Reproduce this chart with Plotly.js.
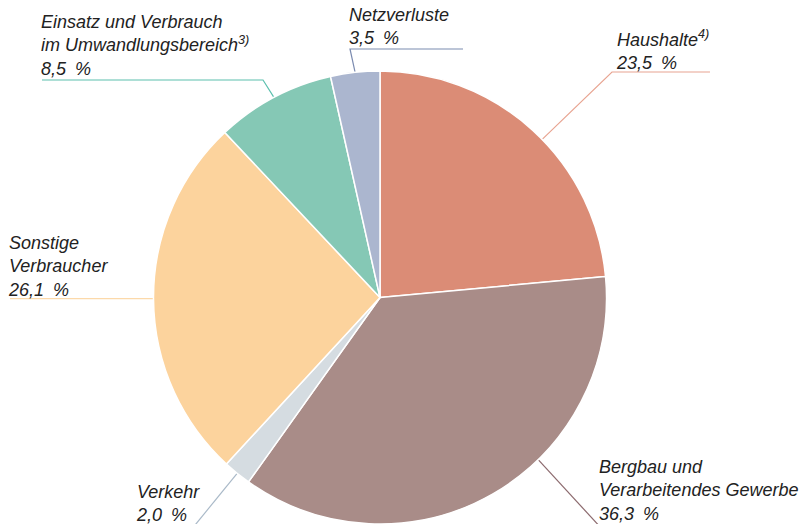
<!DOCTYPE html>
<html>
<head>
<meta charset="utf-8">
<script src="https://cdn.plot.ly/plotly-3.0.1.min.js"></script>
<style>html,body{margin:0;padding:0;background:#fff;}#chart{width:808px;height:524px;}</style>
</head>
<body>
<div id="chart"></div>
<script>
// Data
const categories = ["Haushalte", "Bergbau und Verarbeitendes Gewerbe", "Verkehr", "Sonstige Verbraucher", "Einsatz und Verbrauch im Umwandlungsbereich", "Netzverluste"];
const values = [23.5, 36.3, 2.0, 26.1, 8.5, 3.5];
const valueLabels = ["23,5\u2002%", "36,3\u2002%", "2,0\u2002%", "26,1\u2002%", "8,5\u2002%", "3,5\u2002%"];
const labelTexts = ["Haushalte<sup>4)</sup>", "Bergbau und<br>Verarbeitendes Gewerbe", "Verkehr", "Sonstige<br>Verbraucher", "Einsatz und Verbrauch<br>im Umwandlungsbereich<sup>3)</sup>", "Netzverluste"];
const colors = ["#DB8C76", "#A98C88", "#D5DCE1", "#FCD39D", "#85C8B5", "#ABB6CF"];
const lineColors = ["#E8A491", "#8C6A6E", "#A9B9C8", "#FCD9AA", "#5CC0AE", "#7B8BB0"];

// Layout geometry (pixels)
const W = 808, H = 524;
const cx = 380, cy = 226.5;
const R = 226.5;
const px = x => x / W;
const py = y => 1 - y / H;

// position inside slice for leader start
const frac = [0.54, 0.39, 0.5, 0.5, 0.5, 0.5];
// label positions (top-left)
const labelPos = [[614, 25], [597, 455], [134, 480], [6, 231], [39, 10], [347, 3]];

const total = values.reduce((a, b) => a + b, 0);
let cum = 0;
const shapes = [];
const annotations = [];
values.forEach((v, i) => {
  const a = (cum + v * frac[i]) / total * 2 * Math.PI;
  cum += v;
  const sx = cx + R * Math.sin(a);
  const syTop = (H - cy) - R * Math.cos(a);
  let pts;
  if (i === 0) pts = [[sx, syTop], [612, 72], [710, 72]];
  else if (i === 1) pts = [[sx, syTop], [sx + (530 - syTop) * 0.92, 530]];
  else if (i === 2) {
    const k = (530 - syTop) / (-Math.cos(a));
    pts = [[sx, syTop], [sx + k * Math.sin(a), 530]];
  }
  else if (i === 3) pts = [[sx, syTop], [10, syTop]];
  else if (i === 4) pts = [[sx, syTop], [263, 80], [42, 80]];
  else pts = [[sx, syTop], [350, 49], [463, 49]];
  const path = pts.map((p, j) => (j ? "L" : "M") + px(p[0]).toFixed(5) + "," + py(p[1]).toFixed(5)).join(" ");
  shapes.push({type: "path", xref: "paper", yref: "paper", path: path, line: {color: lineColors[i], width: 1.2}, layer: "below"});
  annotations.push({
    xref: "paper", yref: "paper",
    x: px(labelPos[i][0]), y: py(labelPos[i][1]),
    xanchor: "left", yanchor: "top", align: "left",
    showarrow: false,
    text: "<i>" + labelTexts[i] + "<br>" + valueLabels[i] + "</i>",
    font: {family: "Liberation Sans, Arial, sans-serif", size: 18, color: "#222"}
  });
});

const data = [{
  type: "pie",
  labels: categories,
  values: values,
  sort: false,
  direction: "clockwise",
  rotation: 0,
  textinfo: "none",
  hoverinfo: "none",
  marker: {colors: colors, line: {color: "#fff", width: 1.5}},
  domain: {x: [px(cx - R), px(cx + R)], y: [0, (2 * R) / H]},
  showlegend: false
}];

const layout = {
  width: W, height: H,
  margin: {l: 0, r: 0, t: 0, b: 0},
  paper_bgcolor: "#fff",
  showlegend: false,
  shapes: shapes,
  annotations: annotations
};

Plotly.newPlot("chart", data, layout, {displayModeBar: false, staticPlot: true});
</script>
</body>
</html>
